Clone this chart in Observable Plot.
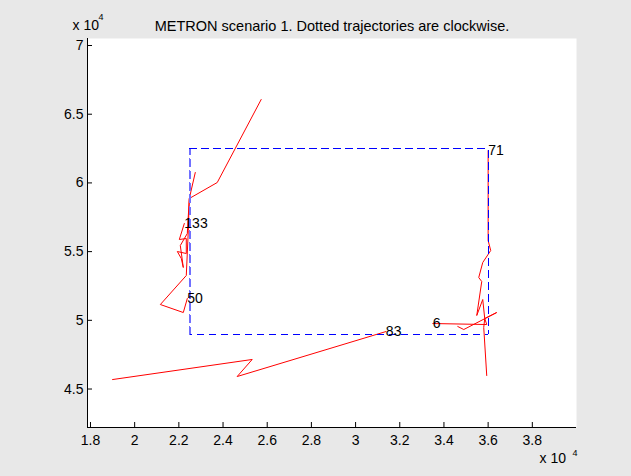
<!DOCTYPE html>
<html><head><meta charset="utf-8">
<script src="https://cdn.jsdelivr.net/npm/d3@7"></script>
<script src="https://cdn.jsdelivr.net/npm/@observablehq/plot@0.6"></script>
<style>
html,body{margin:0;padding:0;background:#e8e8e8;}
#chart{width:631px;height:476px;}
svg{display:block;}
</style></head><body><div id="chart"></div>
<script>
const titleText = "METRON scenario 1. Dotted trajectories are clockwise.";
const xTicks = [18000,20000,22000,24000,26000,28000,30000,32000,34000,36000,38000];
const xTickLabels = ["1.8","2","2.2","2.4","2.6","2.8","3","3.2","3.4","3.6","3.8"];
const yTicks = [45000,50000,55000,60000,65000,70000];
const yTickLabels = ["4.5","5","5.5","6","6.5","7"];
const xDomain = [17865, 40000];
const yDomain = [42200, 70510];
const rectX = [22500, 36000];
const rectY = [49000, 62500];

const trackIds = ["83","6","71","50","133"];
const track83X = [31370, 24640, 25320, 19000];
const track83Y = [49180, 45910, 47150, 45690];
const track6X = [33497, 35937, 35846, 36388, 34897, 34626];
const track6Y = [49767, 49694, 50131, 50568, 49330, 49549];
const track71X = [36000, 36000, 36117, 36027, 35756, 35575, 35711, 35485, 35756, 35846, 35801, 35937];
const track71Y = [62350, 55808, 55080, 54862, 54207, 53115, 52824, 50349, 51514, 50131, 49476, 45983];
const track50X = [22383, 22202, 21163, 22337, 22428, 22473, 22744];
const track50Y = [51587, 50568, 51150, 53261, 56536, 58865, 60757];
const track133X = [22247, 22021, 22337, 22337, 21931, 22111, 22202, 22066, 22383, 22473, 23738, 25726];
const track133Y = [57045, 55881, 55953, 54862, 55007, 54498, 53843, 55444, 56317, 58865, 60029, 66070];

const trackXs = [track83X, track6X, track71X, track50X, track133X];
const trackYs = [track83Y, track6Y, track71Y, track50Y, track133Y];

const lineData = trackIds.flatMap((id, k) => trackXs[k].map((x, i) => ({id, x, y: trackYs[k][i]})));
const labelData = trackIds.map((id, k) => ({id, x: trackXs[k][0], y: trackYs[k][0]}));
const rectPath = [
  {x: rectX[0], y: rectY[1]}, {x: rectX[1], y: rectY[1]},
  {x: rectX[1], y: rectY[0]}, {x: rectX[0], y: rectY[0]}
];
const rectLeft = [{x: rectX[0], y: rectY[0]}, {x: rectX[0], y: rectY[1]}];

const font = "'Liberation Sans', Arial, Helvetica, sans-serif";

const chart = Plot.plot({
  width: 631, height: 476,
  marginLeft: 87, marginRight: 55, marginTop: 38, marginBottom: 49,
  style: {background: "transparent", fontFamily: font, fontSize: "14px", color: "black"},
  x: {domain: xDomain},
  y: {domain: yDomain},
  marks: [
    Plot.frame({fill: "white", stroke: null}),
    Plot.line(lineData, {x: "x", y: "y", z: "id", stroke: "#ff0000", strokeWidth: 1}),
    Plot.line(rectLeft, {x: "x", y: "y", stroke: "#7070ff", strokeWidth: 1.6, strokeDasharray: "7,5", shapeRendering: "crispEdges"}),
    Plot.line(rectPath, {x: "x", y: "y", stroke: "#0000ff", strokeWidth: 1, strokeDasharray: "7,5", shapeRendering: "crispEdges"}),
    Plot.text(labelData, {x: "x", y: "y", text: "id", textAnchor: "start", fontSize: 14, fill: "black"}),
    Plot.ruleX([xDomain[0]], {stroke: "black", strokeWidth: 1}),
    Plot.ruleY([yDomain[0]], {stroke: "black", strokeWidth: 1}),
    Plot.axisX(xTicks, {tickSize: -5, tickPadding: 13, fontSize: 14, tickFormat: d => xTickLabels[xTicks.indexOf(d)], label: null}),
    Plot.axisY(yTicks, {tickSize: -5, tickPadding: 9, fontSize: 14, tickFormat: d => yTickLabels[yTicks.indexOf(d)], label: null}),
    Plot.text([titleText], {frameAnchor: "top", dy: -18, fontSize: 14.5, fill: "black"}),
    Plot.text(["x 10"], {frameAnchor: "top-left", textAnchor: "start", dx: -15, dy: -18, fontSize: 14, fill: "black"}),
    Plot.text(["4"], {frameAnchor: "top-left", textAnchor: "start", dx: 11, dy: -25, fontSize: 9, fill: "black"}),
    Plot.text(["x 10"], {frameAnchor: "bottom-right", textAnchor: "start", dx: -37, dy: 35, fontSize: 14, fill: "black"}),
    Plot.text(["4"], {frameAnchor: "bottom-right", textAnchor: "start", dx: -4, dy: 28, fontSize: 9, fill: "black"})
  ]
});
document.getElementById("chart").appendChild(chart);
</script>
</body></html>
